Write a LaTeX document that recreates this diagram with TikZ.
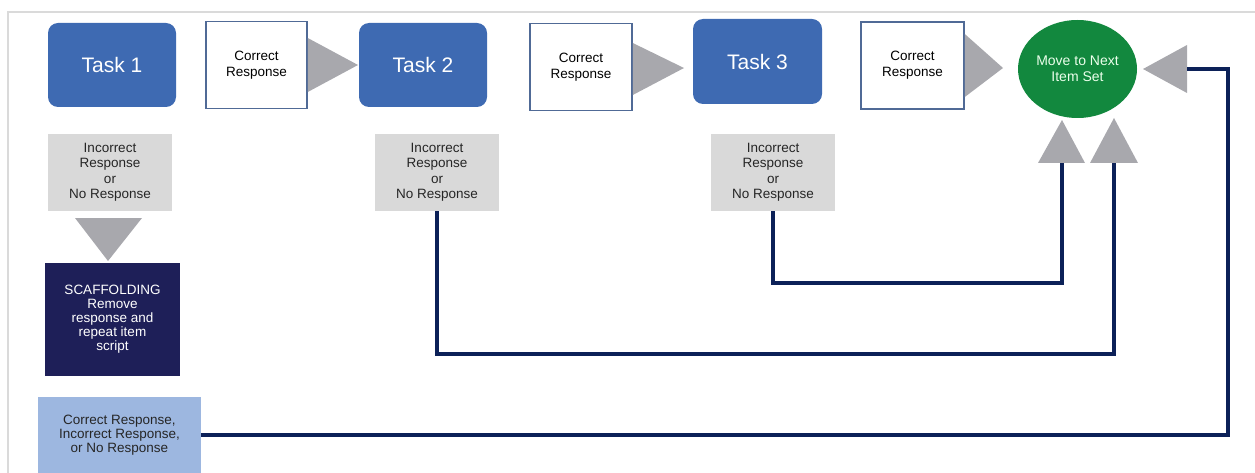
\documentclass[tikz,border=0pt]{standalone}
\usepackage{fontspec}
\setmainfont{Liberation Sans}
\usepackage{tikz}
\usetikzlibrary{shapes.geometric}

\definecolor{taskblue}{RGB}{62,106,178}
\definecolor{boxedge}{RGB}{80,106,150}
\definecolor{tipgray}{RGB}{168,168,173}
\definecolor{missgray}{RGB}{217,217,217}
\definecolor{scaffnavy}{RGB}{30,31,88}
\definecolor{anyblue}{RGB}{157,183,224}
\definecolor{linenavy}{RGB}{12,33,88}
\definecolor{nextgreen}{RGB}{18,136,62}
\definecolor{framegray}{RGB}{218,218,218}

\begin{document}
\begin{tikzpicture}[x=1pt, y=-1pt,
    taskbox/.style={fill=taskblue, rounded corners=10pt, minimum width=128pt, minimum height=84pt, inner sep=0pt, text=white, font=\fontsize{21}{24}\selectfont},
    rightbox/.style={draw=boxedge, line width=1.6pt, fill=white, minimum width=101pt, minimum height=87pt, inner sep=0pt, align=center, font=\fontsize{13.5}{16}\selectfont},
    missbox/.style={fill=missgray, minimum width=124pt, minimum height=77pt, inner sep=0pt, align=center, text=black!85, font=\fontsize{13.5}{15.5}\selectfont},
    tip/.style={fill=tipgray},
    route/.style={draw=linenavy, line width=3.5pt}]
    \useasboundingbox (0,0) rectangle (1255,473);
    \draw[framegray, line width=1.5pt] (8,473) -- (8,12) -- (1255,12);

    \node[taskbox] (task1) at (112,65) {Task 1};
    \node[taskbox] (task2) at (423,65) {Task 2};
    \node[taskbox, minimum width=129pt, minimum height=85pt] (task3) at (757.5,61.5) {Task 3};

    \node[rightbox] (right1) at (256.5,65) {Correct\\Response};
    \node[rightbox, minimum width=102pt] (right2) at (581,67) {Correct\\Response};
    \node[rightbox, minimum width=103pt] (right3) at (912.5,65.5) {Correct\\Response};

    \node[ellipse, fill=nextgreen, minimum width=119pt, minimum height=98pt, inner sep=0pt, align=center, text=green!8, font=\fontsize{14}{16.5}\selectfont] (next) at (1077.5,69) {Move to Next\\Item Set};

    \node[missbox] (miss1) at (110,172.5) {Incorrect\\Response\\or\\No Response};
    \node[missbox] (miss2) at (437,172.5) {Incorrect\\Response\\or\\No Response};
    \node[missbox] (miss3) at (773,172.5) {Incorrect\\Response\\or\\No Response};

    \node[fill=scaffnavy, minimum width=135pt, minimum height=113pt, inner sep=0pt, align=center, text=white, font=\fontsize{13.5}{14}\selectfont] (scaff) at (112.5,319.5) {SCAFFOLDING\\Remove\\response and\\repeat item\\script};

    \node[fill=anyblue, minimum width=163pt, minimum height=76pt, inner sep=0pt, align=center, text=black!85, font=\fontsize{13.5}{14}\selectfont] (anyresp) at (119.5,435) {Correct Response,\\Incorrect Response,\\or No Response};

    \fill[tip] (right1.east |- 0,38) -- (358,65) -- (right1.east |- 0,92) -- cycle;
    \fill[tip] (right2.east |- 0,43) -- (684,68) -- (right2.east |- 0,95) -- cycle;
    \fill[tip] (right3.east |- 0,34) -- (1003,68) -- (right3.east |- 0,97) -- cycle;
    \fill[tip] (75,218) -- (142,218) -- (108,261) -- cycle;
    \fill[tip] (1038,163) -- (1062,120) -- (1085,163) -- cycle;
    \fill[tip] (1090,163) -- (1114,118) -- (1138,163) -- cycle;
    \fill[tip] (1187,45) -- (1143,69) -- (1187,93) -- cycle;

    \coordinate (endA) at (1062,163);
    \coordinate (endB) at (1114,163);
    \coordinate (endC) at (1187,69);

    \draw[route] (miss3.south) -- (miss3.south |- 0,283) -| (endA);
    \draw[route] (miss2.south) -- (miss2.south |- 0,354) -| (endB);
    \draw[route] (anyresp.east) -- (1228,435) |- (endC);
\end{tikzpicture}
\end{document}
